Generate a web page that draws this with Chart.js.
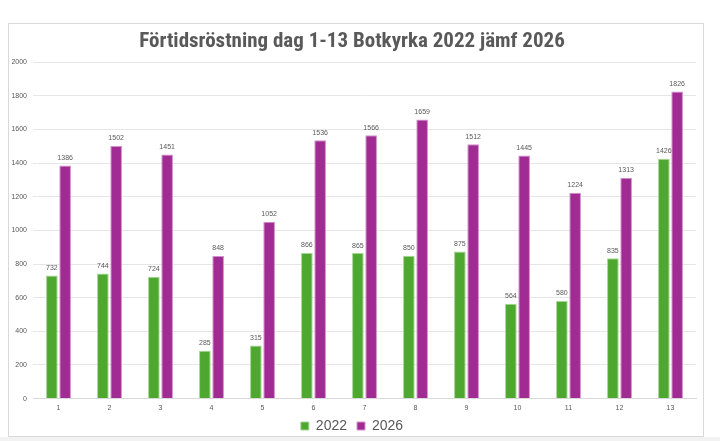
<!DOCTYPE html>
<html>
<head>
<meta charset="utf-8">
<script src="https://cdn.jsdelivr.net/npm/chart.js@4"></script>
<style>
  html, body { margin: 0; padding: 0; background: #fff; }
  #wrap { position: relative; width: 720px; height: 441px; overflow: hidden; }
  #card { position: absolute; left: 8px; top: 23px; width: 696px; height: 414px;
          border: 1px solid #d9d9d9; box-sizing: border-box; background: #fff; }
  #strip { position: absolute; left: 0; top: 437px; width: 720px; height: 4px; background: #f2f2f2; }
  canvas { position: absolute; left: 0; top: 0; }
</style>
</head>
<body>
<div id="wrap">
  <div id="card"></div>
  <div id="strip"></div>
  <canvas id="myChart" width="720" height="441"></canvas>
</div>
<script>
// Days 1-13 of early voting
const days = ['1', '2', '3', '4', '5', '6', '7', '8', '9', '10', '11', '12', '13'];
const votes2022 = [732, 744, 724, 285, 315, 866, 865, 850, 875, 564, 580, 835, 1426];
const votes2026 = [1386, 1502, 1451, 848, 1052, 1536, 1566, 1659, 1512, 1445, 1224, 1313, 1826];
const yTicks = [0, 200, 400, 600, 800, 1000, 1200, 1400, 1600, 1800, 2000];

const textGrey = '#595959';

// Draw value labels above each bar
const barLabels = {
    id: 'barLabels',
    afterDatasetsDraw(chart) {
        const ctx = chart.ctx;
        ctx.save();
        ctx.font = '7px "Liberation Sans", Arial, sans-serif';
        ctx.fillStyle = textGrey;
        ctx.textAlign = 'center';
        ctx.textBaseline = 'bottom';
        chart.data.datasets.forEach((ds, i) => {
            chart.getDatasetMeta(i).data.forEach((bar, j) => {
                ctx.fillText(ds.data[j], bar.x, bar.y - 4);
            });
        });
        ctx.restore();
    }
};

// The x axis box is shrunk in afterFit so the legend sits close; give the
// tick labels their room back after layout so they are not clipped
const unclipX = {
    id: 'unclipX',
    afterLayout(chart) {
        const x = chart.scales.x;
        x.bottom = x.top + 20;
    }
};

function initializeChart() {
    const ctx = document.getElementById('myChart').getContext('2d');
    return new Chart(ctx, {
        type: 'bar',
        data: {
            labels: days,
            datasets: [{
                label: '2022',
                data: votes2022,
                backgroundColor: '#4ea72e',
                borderColor: '#a6d694',
                borderWidth: 1
            }, {
                label: '2026',
                data: votes2026,
                backgroundColor: '#a02b93',
                borderColor: '#d38fcb',
                borderWidth: 1
            }]
        },
        options: {
            responsive: false,
            animation: false,
            layout: { padding: { left: 8, right: 24, top: 23, bottom: -2 } },
            datasets: {
                bar: { categoryPercentage: 0.52, barPercentage: 0.88 }
            },
            scales: {
                x: {
                    afterFit(axis) { axis.height -= 8; },
                    grid: { display: false, drawTicks: false },
                    border: { color: '#d9d9d9', width: 1 },
                    ticks: {
                        color: textGrey,
                        font: { size: 7, family: '"Liberation Sans", Arial, sans-serif' },
                        padding: 5
                    }
                },
                y: {
                    min: 0,
                    max: 2000,
                    afterBuildTicks(axis) {
                        axis.ticks = yTicks.map(v => ({ value: v }));
                    },
                    afterFit(axis) { axis.width = 25; },
                    grid: { color: '#e6e6e6', drawTicks: false },
                    border: { display: false },
                    ticks: {
                        color: textGrey,
                        font: { size: 7, family: '"Liberation Sans", Arial, sans-serif' },
                        padding: 6,
                        callback: v => String(v)
                    }
                }
            },
            plugins: {
                title: {
                    display: true,
                    text: 'Förtidsröstning dag 1-13 Botkyrka 2022 jämf 2026',
                    color: textGrey,
                    font: { size: 21, weight: 'bold', family: '"Liberation Sans Narrow", "Roboto Condensed", Lato, sans-serif' },
                    padding: { top: 6, bottom: 8 }
                },
                legend: {
                    position: 'bottom',
                    labels: {
                        color: textGrey,
                        font: { size: 14, family: '"Liberation Sans", Arial, sans-serif' },
                        boxWidth: 8,
                        boxHeight: 8,
                        padding: 10
                    }
                },
                tooltip: { enabled: false }
            }
        },
        plugins: [barLabels, unclipX]
    });
}

chart = initializeChart();
</script>
</body>
</html>
